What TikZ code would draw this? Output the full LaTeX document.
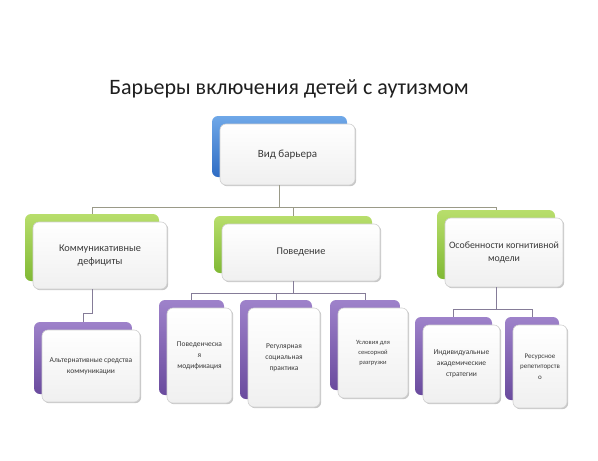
\documentclass[tikz,border=0pt]{standalone}
\usepackage{fontspec}
\setmainfont{Carlito}
\usetikzlibrary{shadows}
\definecolor{blueT}{HTML}{6FA8E8}
\definecolor{blueB}{HTML}{2F6CC4}
\definecolor{greenT}{HTML}{B8DE6C}
\definecolor{greenB}{HTML}{80B934}
\definecolor{purpT}{HTML}{9E82CA}
\definecolor{purpB}{HTML}{6A4B9E}
\definecolor{connA}{HTML}{9A9A88}
\definecolor{connB}{HTML}{857C98}
\definecolor{txt}{HTML}{3A3A3A}
\newcommand\mybox[8]{%
  \node[backbox,#6,minimum width=#4pt,minimum height=#5pt] (#1-b) at (#2-8,#3-8) {};
  \node[frontbox,minimum width=#4pt,minimum height=#5pt,font=#7] (#1) at (#2,#3) {#8};}
\begin{document}
\begin{tikzpicture}[x=1pt,y=-1pt,
  backbox/.style={rounded corners=6pt, draw=none, inner sep=0pt},
  blueback/.style={top color=blueT, bottom color=blueB},
  greenback/.style={top color=greenT, bottom color=greenB},
  purpback/.style={top color=purpT, bottom color=purpB},
  frontbox/.style={rounded corners=6pt, draw=black!18, line width=0.6pt,
    top color=white, bottom color=black!6, inner sep=1pt, align=center, text=txt,
    drop shadow={shadow xshift=1.2pt, shadow yshift=-1.2pt, opacity=0.22, fill=black}},
  connA/.style={draw=connA, line width=0.8pt},
  connB/.style={draw=connB, line width=0.8pt},
  titlefont/.style={font=\fontsize{22}{26}\selectfont, text=black!88}]
\useasboundingbox (0,0) rectangle (598,461);
\fill[white] (0,0) rectangle (598,461);

\node[titlefont] (title) at (289,89) {Барьеры включения детей с аутизмом};

% level 1
\mybox{root}{287.5}{154.5}{135}{61}{blueback}{\fontsize{11}{13}\selectfont}{Вид барьера}

% level 2
\mybox{com}{100}{255.5}{134}{67}{greenback}{\fontsize{10.3}{12.5}\selectfont}{Коммуникативные\\дефициты}
\mybox{beh}{301}{252.5}{158}{57}{greenback}{\fontsize{10.3}{12.5}\selectfont}{Поведение}
\mybox{cog}{504}{252.5}{118}{69}{greenback}{\fontsize{9.8}{12.5}\selectfont}{Особенности когнитивной\\модели}

% level 3
\mybox{alt}{91}{366}{98}{72}{purpback}{\fontsize{7.5}{11}\selectfont}{Альтернативные средства\\коммуникации}
\mybox{mod}{199.5}{355.5}{65}{95}{purpback}{\fontsize{7.5}{11}\selectfont}{Поведенческа\\я\\модификация}
\mybox{soc}{284}{357.5}{72}{99}{purpback}{\fontsize{7.5}{11}\selectfont}{Регулярная\\социальная\\практика}
\mybox{sen}{373}{353}{70}{90}{purpback}{\fontsize{6.5}{10}\selectfont}{Условия для\\сенсорной\\разгрузки}
\mybox{ind}{461.5}{364}{77}{78}{purpback}{\fontsize{7.5}{11}\selectfont}{Индивидуальные\\академические\\стратегии}
\mybox{res}{540}{366.5}{54}{83}{purpback}{\fontsize{7}{10.5}\selectfont}{Ресурсное\\репетиторств\\о}

% connectors
\coordinate (busA) at (0,207);
\coordinate (busB) at (0,313);
\coordinate (busC) at (0,293);
\coordinate (busD) at (0,309);

\draw[connA] (root.south -| root-b.south) -- (root-b.south |- busA) -| (com-b.north);
\draw[connA] (root-b.south |- busA) -| (beh-b.north);
\draw[connA] (root-b.south |- busA) -| (cog-b.north);

\draw[connB] (com.south -| com-b.south) -- (com-b.south |- busB) -| (alt-b.north);

\draw[connB] (beh.south -| beh-b.south) -- (beh-b.south |- busC) -| (mod-b.north);
\draw[connB] (beh-b.south |- busC) -| (soc-b.north);
\draw[connB] (beh-b.south |- busC) -| (sen-b.north);

\draw[connB] (cog.south -| cog-b.south) -- (cog-b.south |- busD) -| (ind-b.north);
\draw[connB] (cog-b.south |- busD) -| (res-b.north);
\end{tikzpicture}
\end{document}
